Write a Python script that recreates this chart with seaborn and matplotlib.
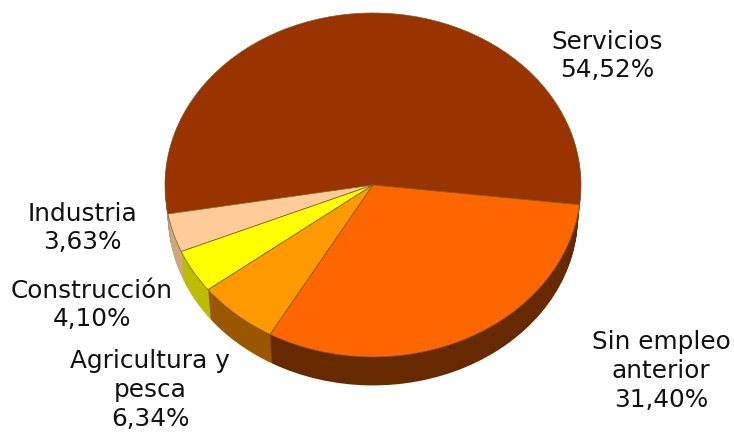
import matplotlib
matplotlib.use('Agg')
import matplotlib.pyplot as plt
import seaborn as sns

# Shares by sector, going counterclockwise from Servicios
sectors = ['Servicios', 'Industria', 'Construcción', 'Agricultura y\npesca', 'Sin empleo\nanterior']
shares = [54.52, 3.63, 4.10, 6.34, 31.40]
share_labels = ['54,52%', '3,63%', '4,10%', '6,34%', '31,40%']
top_colors = ['#993300', '#FFCC99', '#FFFF00', '#FF9900', '#FF6600']
side_colors = ['#C09468', '#CFA77F', '#BDBD00', '#9A5600', '#662900']

sns.set_theme(style='white')
plt.rcParams['font.family'] = ['DejaVu Sans']

fig = plt.figure(figsize=(7.34, 4.32), dpi=100)
ax = fig.add_axes([0, 0, 1, 1])
ax.set_axis_off()

# pie is a unit circle, axes limits squash it into the 208x172 ellipse
cx, cy, rx, ry = 373, 185, 208, 172
depth = 31
# fake 3D: slightly smaller dark copies, so the rim fades out at the far left and right
for d in range(depth, 0, -1):
    ax.pie(shares, colors=side_colors, startangle=-6.6, radius=1 - 0.015 * d / depth,
           center=(0, -d / ry), wedgeprops={'linewidth': 0})
ax.pie(shares, colors=top_colors, startangle=-6.6, radius=1, center=(0, 0),
       wedgeprops={'linewidth': 0.5, 'edgecolor': '#7A5A20'})
ax.set_aspect('auto')
ax.set_xlim(-cx / rx, (734 - cx) / rx)
ax.set_ylim(-(432 - cy) / ry, cy / ry)

# label centres in image pixels
label_pos = [(607, 56), (82, 228), (92, 305), (150, 390), (661, 371)]
for name, share, (px, py) in zip(sectors, share_labels, label_pos):
    ax.text((px - cx) / rx, (cy - py) / ry, name + '\n' + share, ha='center', va='center',
            fontsize=17.8, color='#111111', linespacing=1.25)

fig.savefig('out.png', dpi=100)
